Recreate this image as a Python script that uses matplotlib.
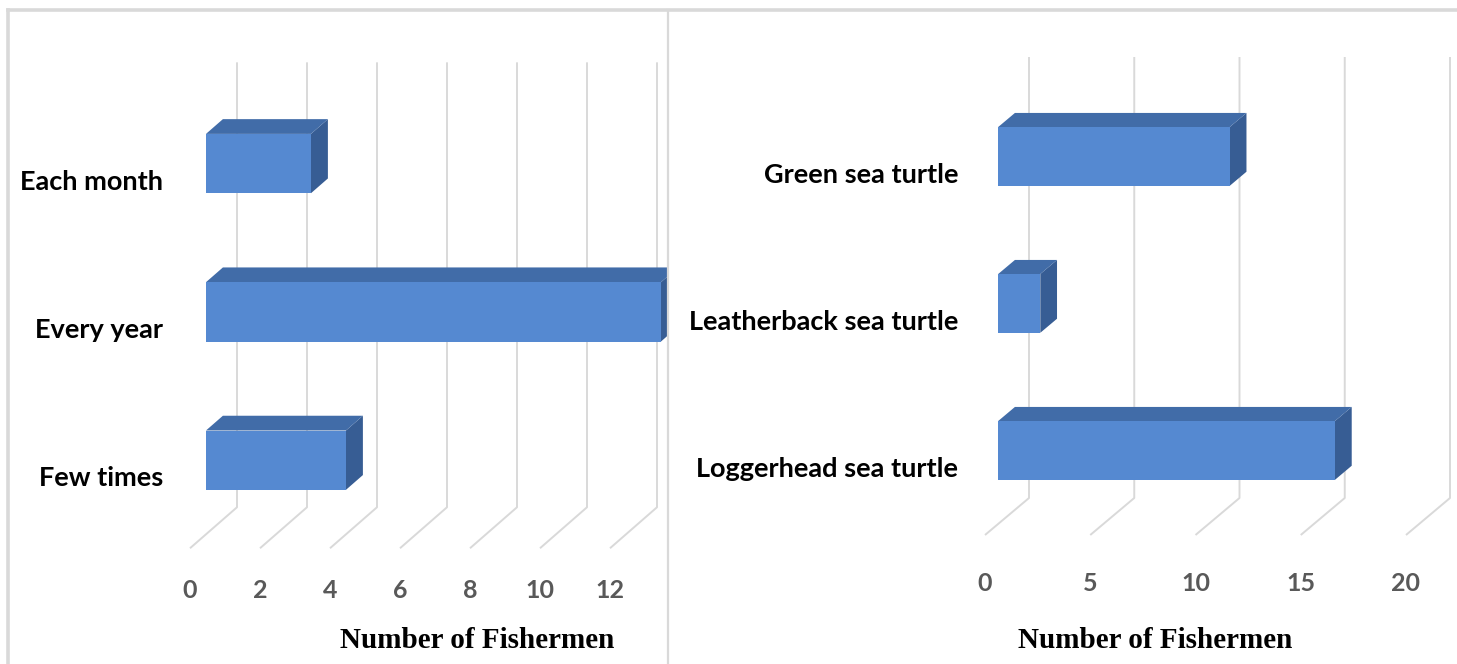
import matplotlib.pyplot as plt
from matplotlib.patches import Polygon

# sighting frequency of sea turtles
freq_labels = ["Each month", "Every year", "Few times"]
freq_counts = [3, 13, 4]
freq_ticks = [0, 2, 4, 6, 8, 10, 12, 14]

# species observed
species_labels = ["Green sea turtle", "Leatherback sea turtle", "Loggerhead sea turtle"]
species_counts = [11, 2, 16]
species_ticks = [0, 5, 10, 15, 20]

W, H = 1457, 664
FRONT = "#5589D1"
TOP = "#416CA8"
SIDE = "#375D94"
GRID = "#D9D9D9"
TICK_C = "#595959"
CAT_FONT = ["Lato", "DejaVu Sans"]

fig = plt.figure(figsize=(W / 100, H / 100), dpi=100)


def bar3d_panel(box, x0, ppu, row0, rowpx, depth, bar_d, labels, counts, ticks,
                tick_off, label_off):
    """Excel-style 3D horizontal bars drawn with an oblique projection.

    box   : panel extent in pixels (left, right, top, bottom)
    x0    : pixel of value 0 on the back wall, ppu pixels per unit
    row0  : pixel of the first category centre, rowpx pixels per category
    depth : pixel offset from back wall to front edge of the floor
    bar_d : (back, front) depth fractions of the bar slab
    """
    l, r, t, b = box
    ax = fig.add_axes([l / W, 1 - b / H, (r - l) / W, (b - t) / H])
    ax.set_xlim((l - x0) / ppu, (r - x0) / ppu)
    ax.set_ylim((b - row0) / rowpx, (t - row0) / rowpx)
    ax.axis("off")

    ddx, ddy = depth[0] / ppu, depth[1] / rowpx
    n = len(labels)
    top_row, floor_row = -0.5, n - 0.5

    def P(v, y, d):
        return (v + d * ddx, y + d * ddy)

    # back wall gridlines running down into the floor
    for tv in ticks:
        xs, ys = zip(P(tv, top_row, 0), P(tv, floor_row, 0), P(tv, floor_row, 1))
        ax.plot(xs, ys, color=GRID, lw=1.4, solid_capstyle="butt", zorder=1)
        fx, fy = P(tv, floor_row, 1)
        ax.text(fx, fy + tick_off / rowpx, str(tv), ha="center", va="center",
                fontsize=18, fontweight="bold", color=TICK_C,
                family=CAT_FONT, clip_on=True)

    db, df = bar_d
    hh = 0.2
    for i, (lab, v) in enumerate(zip(labels, counts)):
        y_top, y_bot = i - hh, i + hh
        side = [P(v, y_top, df), P(v, y_bot, df), P(v, y_bot, db), P(v, y_top, db)]
        top = [P(0, y_top, df), P(v, y_top, df), P(v, y_top, db), P(0, y_top, db)]
        front = [P(0, y_top, df), P(v, y_top, df), P(v, y_bot, df), P(0, y_bot, df)]
        ax.add_patch(Polygon(side, closed=True, fc=SIDE, ec="none", zorder=2))
        ax.add_patch(Polygon(top, closed=True, fc=TOP, ec="none", zorder=2))
        ax.add_patch(Polygon(front, closed=True, fc=FRONT, ec="none", zorder=3))

        lx, ly = P(0, i, 1)
        ax.text(lx - 27 / ppu, ly + label_off / rowpx, lab, ha="right", va="center",
                fontsize=19.5, fontweight="bold", color="black", family=CAT_FONT,
                clip_on=False)
    return ax


bar3d_panel((8, 668, 10, 664), x0=237, ppu=35, row0=136.5, rowpx=148.3,
            depth=(-47, 41), bar_d=(0.30, 0.66), labels=freq_labels,
            counts=freq_counts, ticks=freq_ticks, tick_off=42, label_off=4)
bar3d_panel((669, 1457, 10, 664), x0=1029, ppu=21.05, row0=130.5, rowpx=147,
            depth=(-44, 37), bar_d=(0.32, 0.70), labels=species_labels,
            counts=species_counts, ticks=species_ticks, tick_off=48, label_off=7)

title_kw = dict(ha="center", va="center", fontsize=21, fontweight="bold",
                family="Liberation Serif", color="black")
fig.text(477 / W, 1 - 640 / H, "Number of Fishermen", **title_kw)
fig.text(1155 / W, 1 - 640 / H, "Number of Fishermen", **title_kw)

# panel frames
frame_kw = dict(color=GRID, transform=fig.transFigure)
fig.add_artist(plt.Line2D([8 / W, 1], [1 - 10 / H, 1 - 10 / H], lw=2.6, **frame_kw))
fig.add_artist(plt.Line2D([8 / W, 8 / W], [0, 1 - 10 / H], lw=2.6, **frame_kw))
fig.add_artist(plt.Line2D([668 / W, 668 / W], [0, 1 - 10 / H], lw=1.6, **frame_kw))

fig.savefig("out.png", dpi=100)
